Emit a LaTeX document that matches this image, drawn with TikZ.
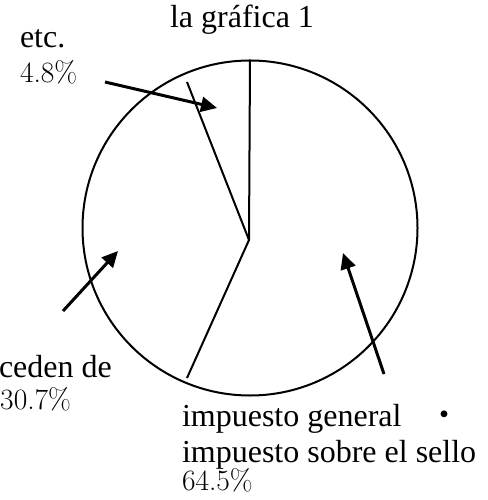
\documentclass[tikz,border=0pt]{standalone}
\usepackage{fontspec}
\usetikzlibrary{arrows.meta}
\newfontfamily\txtfont{Liberation Serif}
\newfontfamily\cjkfont{Noto Sans CJK JP}
\begin{document}
\begin{tikzpicture}[x=1pt, y=-1pt, line width=2pt,
  lbl/.style = {inner sep=0pt, font=\txtfont\fontsize{32}{37}\selectfont},
  pct/.style = {inner sep=0pt, font=\fontsize{29.5}{35}\selectfont},
  arr/.style = {line width=3pt, -{Triangle[length=16pt,width=15pt]}}]
\useasboundingbox (0,0) rectangle (487,500);

% pie
\node[circle, draw, minimum size=335pt, inner sep=0pt] (pie) at (250,228) {};
\coordinate (o) at (249,240);
\coordinate (a) at (187,82);
\coordinate (b) at (187,378);
\draw (pie.north) -- (o) -- (b);
\draw (a) -- (o);

% labels
\node[lbl, anchor=base] (title) at (242,28) {la gráfica 1};
\node[lbl, anchor=base west] (etc) at (19,48) {etc.};
\node[pct, anchor=base west] (p1) at (19,83) {4.8\%};
\node[lbl, anchor=base west] (proc) at (-2,377) {ceden de};
\node[pct, anchor=base east] (p2) at (72,409) {30.7\%};
\node[lbl, anchor=base west] (imp1) at (181,426) {impuesto general\hspace{27pt}{\cjkfont ・}};
\node[lbl, anchor=base west] (imp2) at (181,462) {impuesto sobre el sello};
\node[pct, anchor=base west] (p3) at (181,490) {64.5\%};

% arrows
\coordinate (e1) at (105,82);
\coordinate (e2) at (217,108);
\coordinate (c1) at (63,311);
\coordinate (c2) at (118,251);
\coordinate (i1) at (384,374);
\coordinate (i2) at (343,253);
\draw[arr] (e1) -- (e2);
\draw[arr] (c1) -- (c2);
\draw[arr] (i1) -- (i2);
\end{tikzpicture}
\end{document}
